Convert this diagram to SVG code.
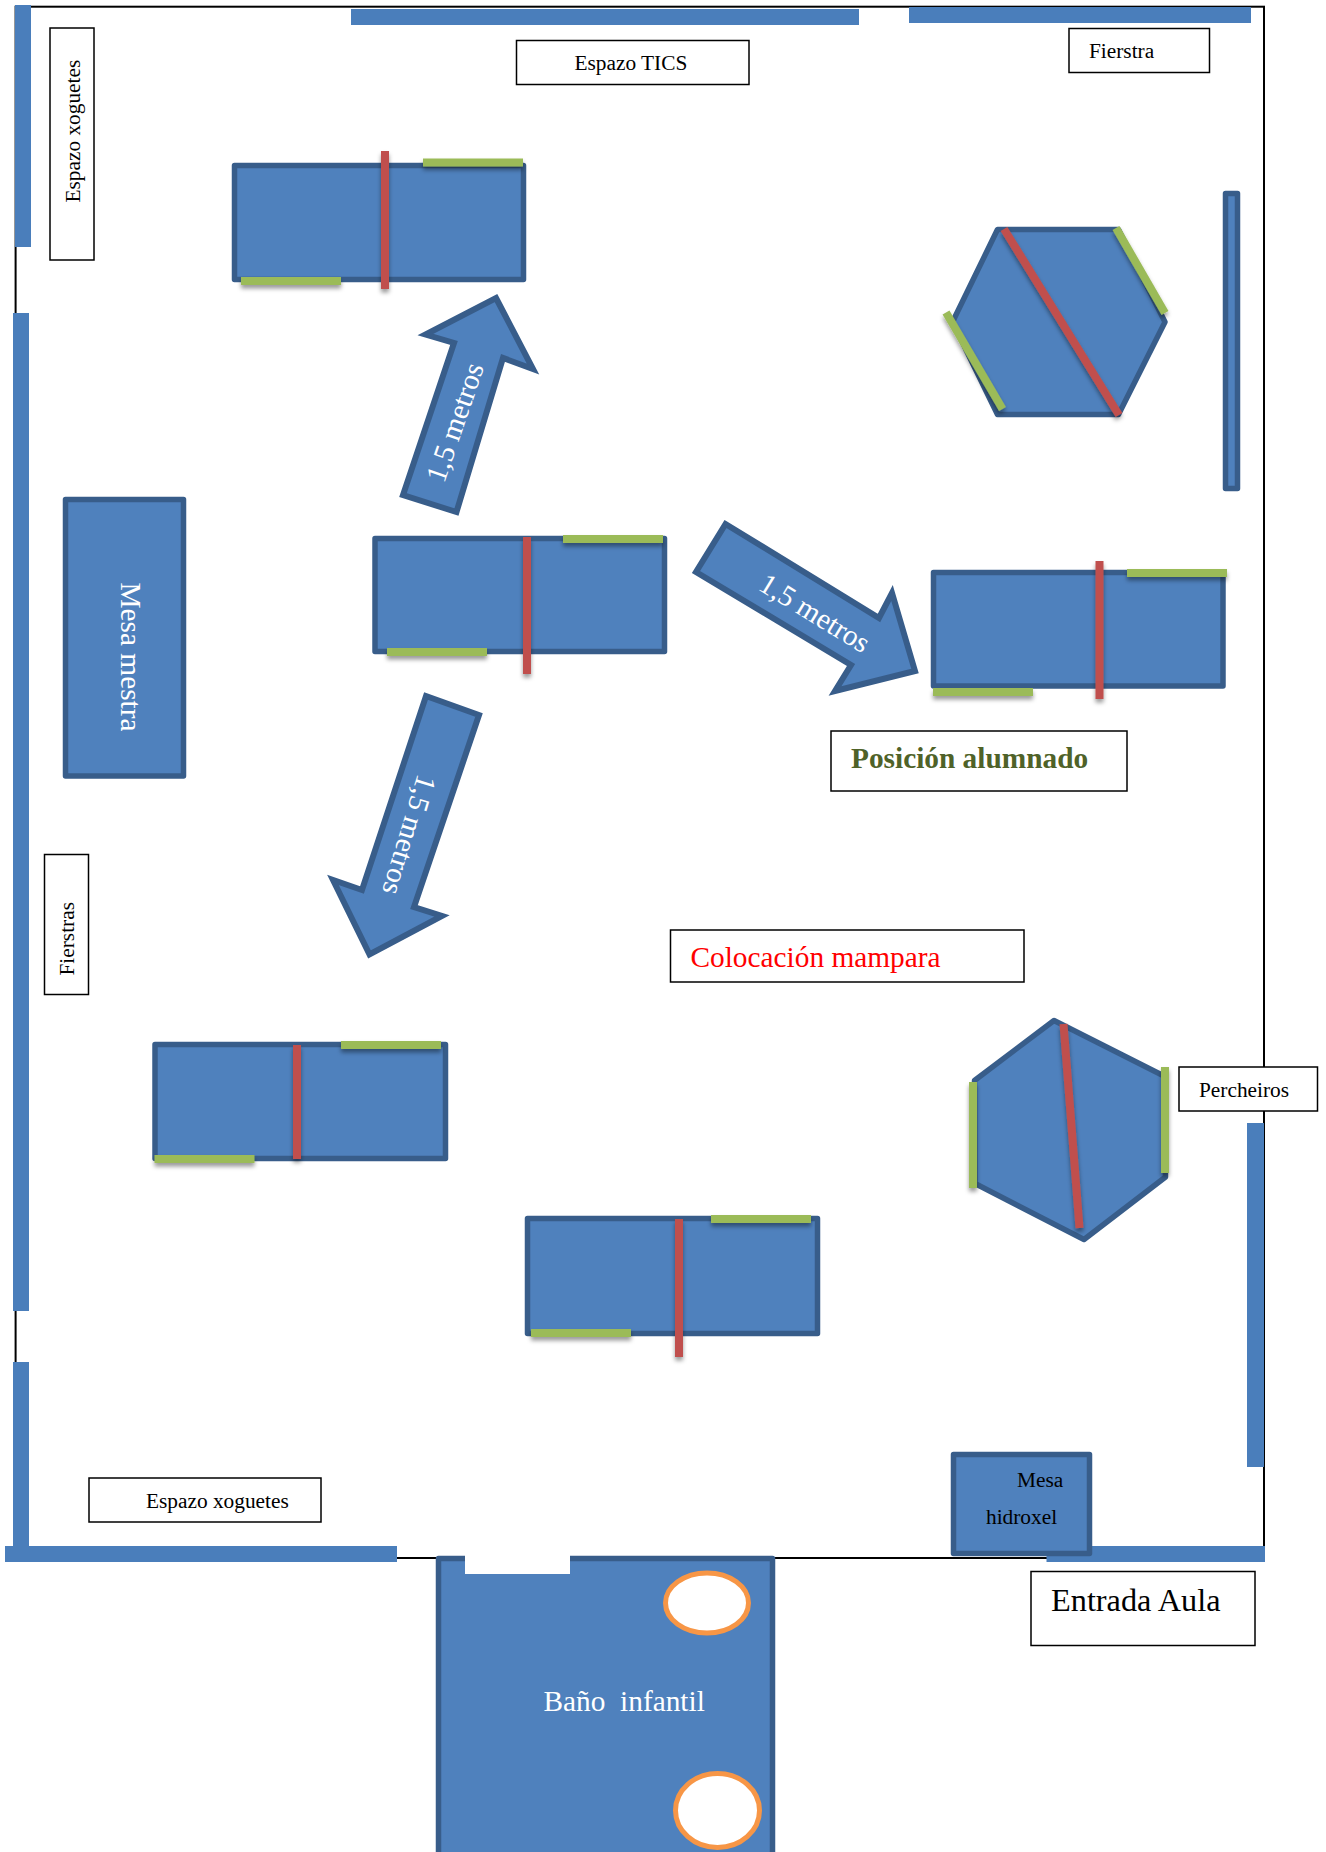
<svg xmlns="http://www.w3.org/2000/svg" width="1326" height="1852" viewBox="0 0 1326 1852">
<style>
text{font-family:"Liberation Serif","Times New Roman",serif;white-space:pre}
.wall{fill:#4a7ebb}
.shape{fill:#4f81bd;stroke:#385d8a;stroke-width:6;stroke-linejoin:miter}
.table{fill:#4f81bd;stroke:#385d8a;stroke-width:5.5;stroke-linejoin:round}
.red{fill:#c0504d;filter:url(#sh)}
.green{fill:#9bbb59;filter:url(#sh)}
.redl{stroke:#c0504d;stroke-width:8;filter:url(#sh)}
.greenl{stroke:#9bbb59;stroke-width:8;filter:url(#sh)}
.box{fill:#fff;stroke:#000;stroke-width:1.5}
.t{font-size:21.33px;fill:#000}
.w{fill:#fff}
.sink{fill:#fff;stroke:#f79646;stroke-width:5}
</style>
<defs>
<filter id="sh" filterUnits="userSpaceOnUse" x="0" y="0" width="1326" height="1852">
<feDropShadow dx="0" dy="3.500" stdDeviation="2.200" flood-color="#000" flood-opacity="0.4"/>
</filter>
</defs>
<rect width="1326" height="1852" fill="#fff"/>
<g id="room">
<rect x="15.6" y="6.7" width="1248.4" height="1551.3" fill="none" stroke="#000" stroke-width="2"/>
<rect class="wall" x="15" y="5" width="16" height="242"/>
<rect class="wall" x="13" y="313" width="16" height="998"/>
<rect class="wall" x="13" y="1362" width="16" height="190"/>
<rect class="wall" x="5" y="1546" width="392" height="16"/>
<rect class="wall" x="351" y="9" width="508" height="16"/>
<rect class="wall" x="909" y="7" width="342" height="16"/>
<rect class="wall" x="1247" y="1123" width="17" height="344"/>
<rect class="wall" x="1046.500" y="1546" width="218.500" height="16"/>
</g>
<g id="label-espazo-xoguetes-v">
<rect class="box" x="50" y="28" width="44" height="232"/>
<text class="t" transform="translate(79.500 202.500) rotate(-90)">Espazo xoguetes</text>
</g>
<g id="label-espazo-tics">
<rect class="box" x="516.500" y="40.500" width="232.500" height="44"/>
<text class="t" x="574.500" y="70">Espazo TICS</text>
</g>
<g id="label-fierstra">
<rect class="box" x="1069" y="28.500" width="140.500" height="44"/>
<text class="t" x="1089" y="57.500">Fierstra</text>
</g>
<g id="shelf"><rect class="table" x="1225.500" y="193.500" width="12" height="295"/></g>
<g id="table-1">
<rect class="table" x="234.500" y="165.500" width="289" height="114"/>
<rect class="green" x="423" y="158.500" width="100" height="8"/>
<rect class="green" x="241" y="277" width="100" height="8"/>
<rect class="red" x="381" y="151" width="8" height="138"/>
</g>
<g id="table-2">
<rect class="table" x="375" y="538.500" width="289.500" height="113"/>
<rect class="green" x="563" y="535" width="100" height="8"/>
<rect class="green" x="387" y="648" width="100" height="8"/>
<rect class="red" x="523" y="537" width="8" height="137"/>
</g>
<g id="table-3">
<rect class="table" x="933.500" y="572.500" width="289.500" height="113.500"/>
<rect class="green" x="1127" y="569" width="100" height="8"/>
<rect class="green" x="933" y="688" width="100" height="8"/>
<rect class="red" x="1095.500" y="561" width="8" height="138"/>
</g>
<g id="table-4">
<rect class="table" x="155" y="1044.500" width="290.500" height="114"/>
<rect class="green" x="341" y="1041" width="100" height="8"/>
<rect class="green" x="154.500" y="1155" width="100" height="8"/>
<rect class="red" x="293" y="1045" width="8" height="114"/>
</g>
<g id="table-5">
<rect class="table" x="527.500" y="1218.500" width="290" height="115"/>
<rect class="green" x="711" y="1215" width="100" height="8"/>
<rect class="green" x="531" y="1329" width="100" height="8"/>
<rect class="red" x="675" y="1219" width="8" height="138"/>
</g>
<g id="mesa-mestra">
<rect class="table" x="65.500" y="499.500" width="118" height="276.500"/>
<text class="w" font-size="29.33" transform="translate(120.500 582.500) rotate(90)">Mesa mestra</text>
</g>
<g id="hexagon-1">
<polygon class="table" points="997.500,229.500 1118.500,229.500 1165,322 1118.500,414.500 997.500,414.500 952.500,322"/>
<line class="greenl" x1="1116" y1="228" x2="1165" y2="313"/>
<line class="greenl" x1="946" y1="312.500" x2="1002.500" y2="409"/>
<line class="redl" x1="1004" y1="229" x2="1119" y2="415"/>
</g>
<g id="hexagon-2">
<polygon class="table" points="1054,1020.500 1164,1076 1165.500,1177 1084,1239.500 975,1183.500 974.500,1080.500"/>
<rect class="green" x="969" y="1082" width="8" height="106"/>
<rect class="green" x="1161" y="1067" width="8" height="106"/>
<line class="redl" x1="1063.500" y1="1024" x2="1079.500" y2="1228"/>
</g>
<g id="connectors">
<g id="arrow-up">
<polygon class="shape" points="496,298 533,369 503,358 456.500,512 403,495 454,343 425.500,334.500"/>
<text class="w" font-size="29.33" transform="translate(444 484) rotate(-71)">1,5 metros</text>
</g>
<g id="arrow-right">
<polygon class="shape" points="725.500,524 879,618 892,593 915,671 835,691 851,665 696,572"/>
<text class="w" font-size="29.33" transform="translate(757 589) rotate(31.500)">1,5 metros</text>
</g>
<g id="arrow-down">
<polygon class="shape" points="426,696 479,715 414,907 442,916 369.500,954.500 333,880 362,890"/>
<text class="w" font-size="29.33" transform="translate(418 773) rotate(107)">1,5 metros</text>
</g>
</g>
<g id="label-posicion">
<rect class="box" x="831" y="731" width="296" height="60"/>
<text font-weight="bold" font-size="29.33" fill="#4f6228" x="851" y="768">Posición alumnado</text>
</g>
<g id="label-colocacion">
<rect class="box" x="670.500" y="930" width="353.500" height="52"/>
<text font-size="29.33" fill="#ff0000" x="690.500" y="967">Colocación mampara</text>
</g>
<g id="label-fierstras">
<rect class="box" x="44.500" y="854.500" width="44" height="140"/>
<text class="t" transform="translate(74.400 975.500) rotate(-90)">Fierstras</text>
</g>
<g id="label-percheiros">
<rect class="box" x="1179" y="1067" width="138.500" height="44"/>
<text class="t" x="1199" y="1097">Percheiros</text>
</g>
<g id="label-espazo-xoguetes-h">
<rect class="box" x="89" y="1478" width="232" height="44"/>
<text class="t" x="146" y="1508">Espazo xoguetes</text>
</g>
<g id="bano-infantil">
<rect class="table" x="438.500" y="1558.500" width="334" height="300"/>
<rect x="465" y="1552" width="105" height="22" fill="#fff"/>
<text class="w" font-size="29.33" x="543.500" y="1711" xml:space="preserve">Baño  infantil</text>
<ellipse class="sink" cx="707" cy="1603" rx="41.500" ry="30"/>
<ellipse class="sink" cx="717.500" cy="1810.500" rx="42" ry="37"/>
</g>
<g id="mesa-hidroxel">
<rect class="table" x="953.500" y="1454.500" width="136" height="99"/>
<text class="t" x="1017" y="1487">Mesa</text>
<text class="t" x="986" y="1524">hidroxel</text>
</g>
<g id="label-entrada">
<rect class="box" x="1031" y="1571.500" width="224" height="74"/>
<text font-size="32.3" fill="#000" x="1051" y="1610.500">Entrada Aula</text>
</g>
</svg>
